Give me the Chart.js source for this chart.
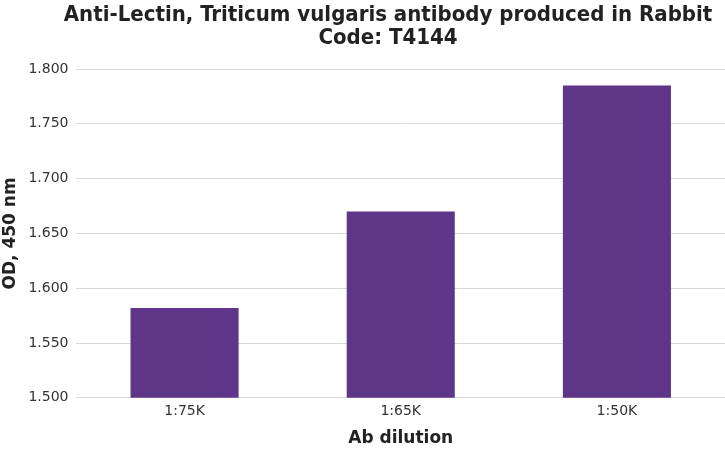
<!DOCTYPE html>
<html>
<head>
<meta charset="utf-8">
<script src="https://cdn.jsdelivr.net/npm/chart.js"></script>
<style>
  html, body { margin: 0; padding: 0; background: #fff; }
  #wrap { width: 725px; height: 450px; }
</style>
</head>
<body>
<div id="wrap"><canvas id="odChart"></canvas></div>
<script>
// Values
const dilutions = ['1:75K', '1:65K', '1:50K'];
const odValues = [1.582, 1.670, 1.785];
const titleLines = ['Anti-Lectin, Triticum vulgaris antibody produced in Rabbit', 'Code: T4144'];

// Title drawn by hand: the original sits a bit right of the canvas centre
const titlePlugin = {
    id: 'offsetTitle',
    afterDraw(chart) {
        const ctx = chart.ctx;
        ctx.save();
        ctx.fillStyle = '#222';
        ctx.font = 'bold 22px "DejaVu Sans Condensed"';
        ctx.textAlign = 'center';
        ctx.textBaseline = 'middle';
        titleLines.forEach((line, i) => {
            ctx.fillText(line, 388, 15 + i * 23);
        });
        ctx.restore();
    }
};

const canvas = document.getElementById('odChart');

new Chart(canvas, {
    type: 'bar',
    data: {
        labels: dilutions,
        datasets: [{
            label: 'OD, 450 nm',
            data: odValues,
            backgroundColor: '#5f358a',
            borderWidth: 0,
            barPercentage: 0.5,
            categoryPercentage: 1.0
        }]
    },
    options: {
        responsive: true,
        maintainAspectRatio: false,
        animation: false,
        layout: { padding: { top: 69, right: 0, bottom: 1, left: 0 } },
        plugins: {
            legend: { display: false },
            tooltip: { enabled: false },
            title: { display: false }
        },
        scales: {
            x: {
                grid: { display: false, drawTicks: false },
                border: { display: false },
                ticks: { color: '#333', font: { family: 'DejaVu Sans', size: 14 }, padding: 5 },
                title: {
                    display: true,
                    text: 'Ab dilution',
                    color: '#222',
                    font: { family: 'DejaVu Sans', size: 17, weight: 'bold' },
                    padding: { top: 4, bottom: 0 }
                }
            },
            y: {
                min: 1.5,
                max: 1.8,
                ticks: {
                    stepSize: 0.05,
                    color: '#333',
                    font: { family: 'DejaVu Sans', size: 14 },
                    padding: 8,
                    callback: v => v.toFixed(3)
                },
                grid: { color: '#d9d9d9', lineWidth: 1, drawTicks: false },
                border: { display: false },
                title: {
                    display: true,
                    text: 'OD, 450 nm',
                    color: '#222',
                    font: { family: 'DejaVu Sans', size: 17, weight: 'bold' },
                    padding: { top: 0, bottom: 0 }
                }
            }
        }
    },
    plugins: [titlePlugin]
});
</script>
</body>
</html>
